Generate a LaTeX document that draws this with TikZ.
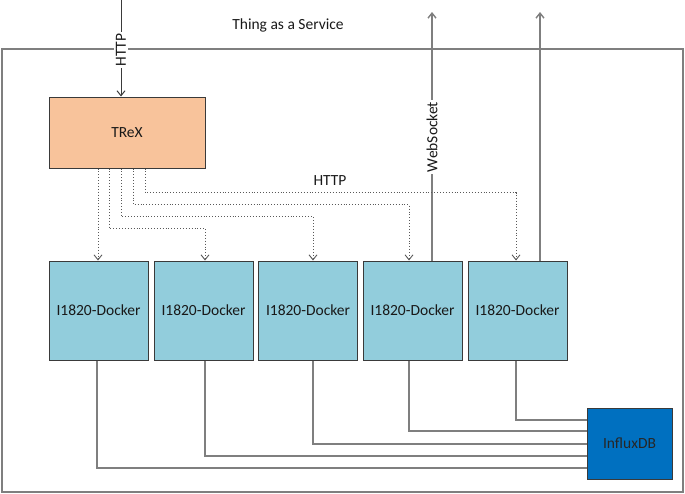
\documentclass[tikz,border=0pt]{standalone}
\usepackage{fontspec}
\setmainfont{Carlito}
\usetikzlibrary{arrows.meta}
\definecolor{trexfill}{HTML}{F8C39B}
\definecolor{dockfill}{HTML}{92CDDC}
\definecolor{influxfill}{HTML}{0070C0}
\definecolor{edge}{HTML}{3A3A3A}
\definecolor{wire}{HTML}{7F7F7F}
\tikzset{
  box/.style={draw=edge, line width=1pt, inner sep=0pt, font=\fontsize{15.5}{18}\selectfont, text=black!90},
  trexbox/.style={box, fill=trexfill, minimum width=156pt, minimum height=71pt},
  dockbox/.style={box, fill=dockfill, minimum width=99pt, minimum height=99pt},
  influxbox/.style={box, fill=influxfill, minimum width=85pt, minimum height=71pt, text=black!85},
  frame/.style={draw=wire, line width=1.4pt},
  wireline/.style={draw=wire, line width=1.4pt},
  darkline/.style={draw=edge, line width=1pt},
  tip/.style={-{Straight Barb[length=5pt,width=8pt]}},
  dotarr/.style={draw=black!65, line width=0.9pt, dotted, -{Straight Barb[length=5pt,width=8pt]}},
  lbl/.style={font=\fontsize{15.5}{18}\selectfont, text=black!90, inner sep=1pt},
  vlbl/.style={lbl, fill=white, rotate=90, inner sep=2pt}
}
\begin{document}
\begin{tikzpicture}[x=1pt,y=-1pt]
\useasboundingbox (0,0) rectangle (685,493);
% frame
\draw[frame] (2,49) rectangle (683,492);
\node[lbl] (title) at (288,25) {Thing as a Service};
% nodes
\node[trexbox] (trex) at (127,132.5) {TReX};
\node[dockbox] (d1) at (98.5,310.5) {I1820-Docker};
\node[dockbox] (d2) at (203.5,310.5) {I1820-Docker};
\node[dockbox] (d3) at (308,310.5) {I1820-Docker};
\node[dockbox] (d4) at (412.5,310.5) {I1820-Docker};
\node[dockbox] (d5) at (517.5,310.5) {I1820-Docker};
\node[influxbox] (influx) at (629.5,443.5) {InfluxDB};
% incoming HTTP
\coordinate (in) at (121,0);
\draw[darkline, tip] (in) -- (in |- trex.north);
\node[vlbl] (httpv) at (121,50) {HTTP};
% outgoing websocket arrows
\coordinate (out4) at (432,12);
\coordinate (out5) at (540,12);
\draw[wireline, tip] (d4.north -| out4) -- (out4);
\draw[wireline, tip] (d5.north -| out5) -- (out5);
\node[vlbl] (ws) at (432,137) {WebSocket};
% dotted HTTP arrows
\coordinate (h2) at (0,228);
\coordinate (h3) at (0,216.5);
\coordinate (h4) at (0,204.5);
\coordinate (h5) at (0,192.5);
\draw[dotarr] ([xshift=-29pt]trex.south) -- ([xshift=-0.5pt]d1.north);
\draw[dotarr] ([xshift=-18pt]trex.south) |- ([xshift=1.5pt]d2.north |- h2) -- ([xshift=1.5pt]d2.north);
\draw[dotarr] ([xshift=-6pt]trex.south) |- ([xshift=5pt]d3.north |- h3) -- ([xshift=5pt]d3.north);
\draw[dotarr] ([xshift=6pt]trex.south) |- ([xshift=-3.5pt]d4.north |- h4) -- ([xshift=-3.5pt]d4.north);
\draw[dotarr] ([xshift=18pt]trex.south) |- ([xshift=-1.5pt]d5.north |- h5) -- ([xshift=-1.5pt]d5.north);
\node[lbl] (http2) at (330,181) {HTTP};
% database wires
\draw[wireline] ([xshift=-1.5pt]d1.south) |- ([yshift=-24.5pt]influx.west);
\draw[wireline] ([xshift=1.5pt]d2.south) |- ([yshift=-12.5pt]influx.west);
\draw[wireline] ([xshift=5pt]d3.south) |- ([yshift=-0.5pt]influx.west);
\draw[wireline] ([xshift=-3.5pt]d4.south) |- ([yshift=12.5pt]influx.west);
\draw[wireline] ([xshift=-1.5pt]d5.south) |- ([yshift=23.5pt]influx.west);
\end{tikzpicture}
\end{document}
